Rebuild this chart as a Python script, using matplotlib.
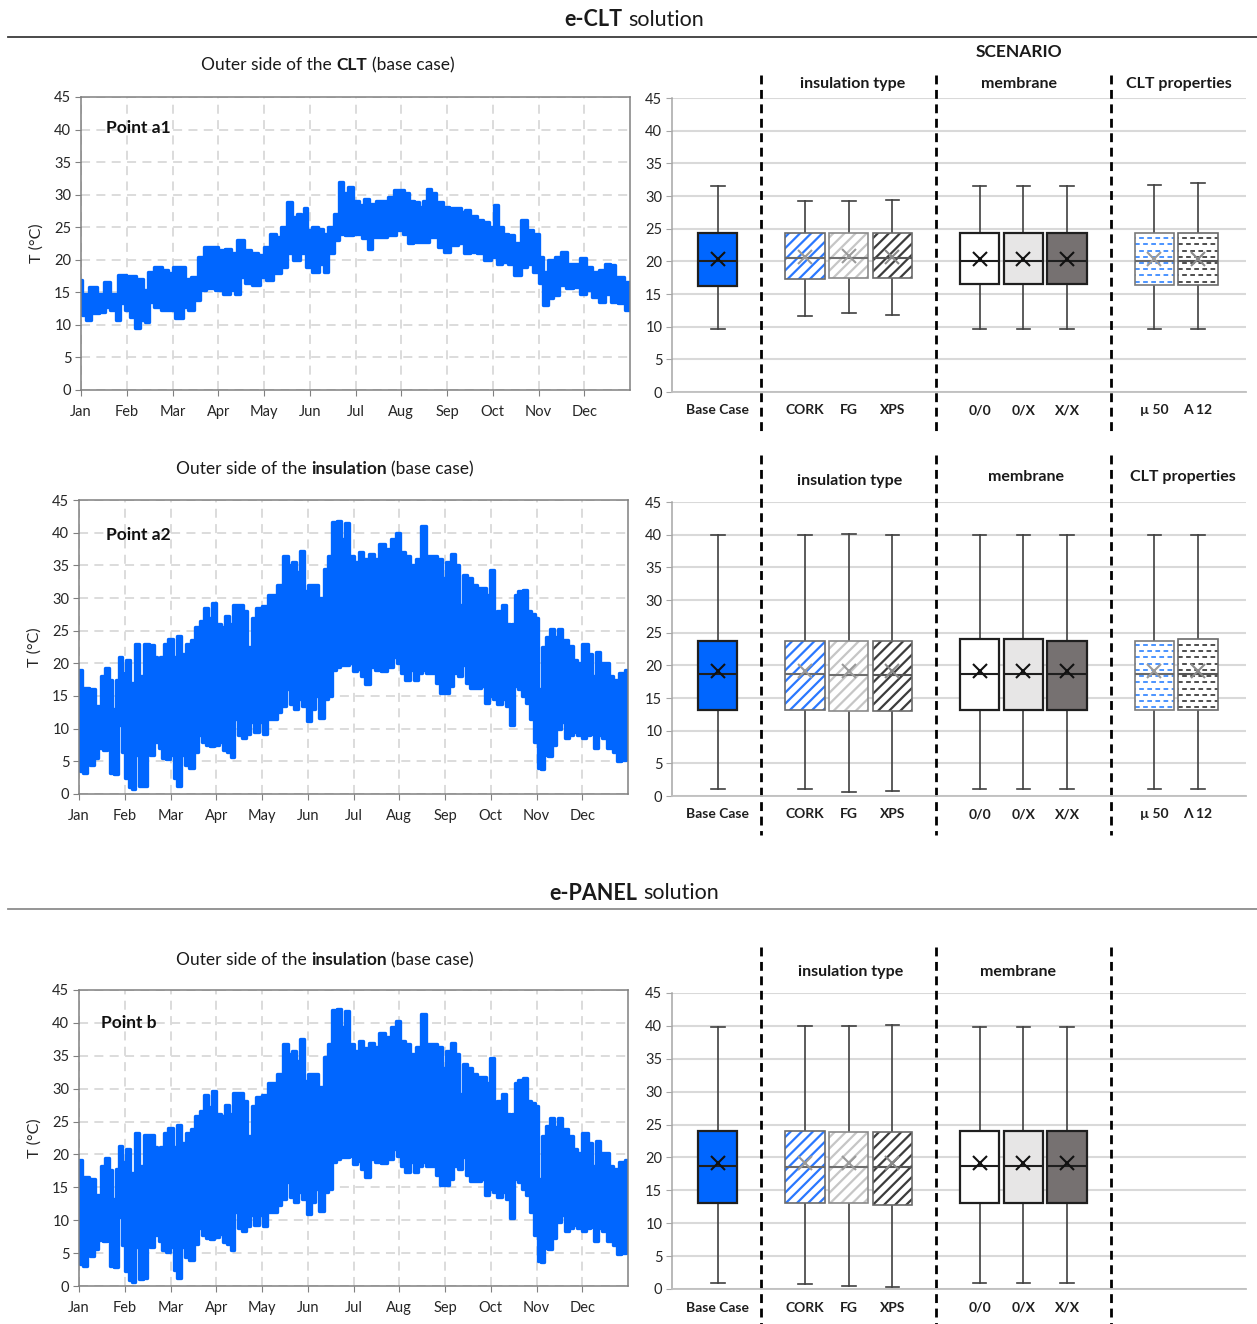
import numpy as np
import matplotlib
matplotlib.use("Agg")
import matplotlib.pyplot as plt
from matplotlib.patches import Rectangle
from matplotlib.lines import Line2D
import matplotlib.transforms as mtransforms

W, H, DPI = 1257, 1324, 100
plt.rcParams['font.family'] = ['Lato', 'DejaVu Sans']
plt.rcParams['hatch.linewidth'] = 1.6

MONTHS = ['Jan', 'Feb', 'Mar', 'Apr', 'May', 'Jun', 'Jul', 'Aug', 'Sep', 'Oct', 'Nov', 'Dec']

# ---- hourly temperature envelopes: (month position, daily max / daily min) ----
a1_hi = [(0.00, 16.9), (0.06, 14.8), (0.29, 15.8), (0.43, 14.8), (0.57, 16.6), (0.71, 14.8), (0.89, 17.6),
         (1.08, 17.5), (1.31, 17.1), (1.40, 15.3), (1.53, 18.1), (1.67, 18.9), (1.86, 18.4), (1.95, 17.9),
         (2.09, 18.9), (2.23, 18.9), (2.32, 17.1), (2.50, 17.4), (2.60, 20.4), (2.78, 22.0), (2.92, 22.0),
         (3.06, 21.5), (3.24, 21.7), (3.33, 21.0), (3.47, 23.0), (3.65, 21.5), (3.79, 21.0), (3.93, 20.7),
         (4.07, 22.0), (4.21, 24.0), (4.30, 23.5), (4.44, 25.1), (4.57, 28.9), (4.67, 26.6), (4.76, 27.1),
         (4.85, 25.8), (4.90, 27.9), (4.99, 24.5), (5.13, 25.1), (5.22, 24.8), (5.36, 24.0), (5.45, 25.1),
         (5.59, 27.1), (5.68, 32.0), (5.77, 30.2), (5.91, 31.2), (6.00, 29.1), (6.14, 28.4), (6.23, 29.4),
         (6.37, 28.6), (6.51, 29.1), (6.64, 29.1), (6.78, 29.7), (6.92, 30.7), (7.01, 30.7), (7.10, 30.2),
         (7.24, 29.1), (7.33, 28.9), (7.43, 28.1), (7.52, 29.1), (7.61, 30.9), (7.70, 30.2), (7.84, 28.9),
         (7.98, 28.1), (8.12, 27.9), (8.25, 27.9), (8.35, 27.4), (8.44, 27.6), (8.58, 26.8), (8.71, 26.1),
         (8.85, 25.8), (8.99, 25.1), (9.08, 28.4), (9.17, 25.1), (9.27, 24.0), (9.40, 23.8), (9.54, 22.5),
         (9.68, 26.1), (9.82, 24.5), (9.96, 24.0), (10.05, 20.4), (10.14, 18.1), (10.28, 19.9), (10.42, 20.4),
         (10.55, 21.2), (10.69, 19.4), (10.83, 19.4), (10.97, 20.2), (11.11, 18.9), (11.25, 18.1), (11.38, 18.4),
         (11.52, 19.4), (11.61, 19.2), (11.75, 17.4), (12.00, 16.6)]
a1_lo = [(0.00, 13.3), (0.06, 11.5), (0.16, 10.7), (0.29, 11.8), (0.48, 12.0), (0.57, 12.8), (0.71, 12.3),
         (0.80, 10.7), (0.89, 13.3), (1.03, 12.3), (1.12, 11.2), (1.24, 9.5), (1.35, 10.7), (1.44, 10.5),
         (1.53, 13.5), (1.67, 12.8), (1.81, 12.3), (1.95, 12.3), (2.18, 11.0), (2.27, 12.8), (2.41, 12.3),
         (2.55, 13.8), (2.64, 15.3), (2.83, 15.6), (3.01, 15.3), (3.19, 14.8), (3.33, 15.3), (3.42, 14.8),
         (3.52, 17.4), (3.65, 16.4), (3.84, 16.1), (3.98, 17.4), (4.11, 16.9), (4.30, 17.9), (4.44, 18.9),
         (4.57, 21.0), (4.71, 19.9), (4.85, 21.0), (4.99, 18.9), (5.13, 18.1), (5.26, 19.4), (5.36, 18.1),
         (5.45, 21.0), (5.59, 23.0), (5.68, 24.0), (5.86, 23.8), (6.05, 24.0), (6.23, 23.3), (6.32, 21.7),
         (6.41, 23.5), (6.60, 23.5), (6.78, 23.8), (6.97, 24.5), (7.10, 24.0), (7.20, 22.5), (7.33, 22.8),
         (7.52, 22.8), (7.70, 23.5), (7.89, 22.0), (7.98, 21.2), (8.16, 22.2), (8.30, 22.5), (8.44, 21.0),
         (8.58, 21.2), (8.71, 21.0), (8.90, 19.9), (9.04, 20.4), (9.13, 19.4), (9.27, 19.7), (9.40, 19.4),
         (9.54, 17.6), (9.68, 18.9), (9.82, 19.4), (9.96, 18.1), (10.05, 16.4), (10.14, 13.0), (10.28, 14.1),
         (10.37, 14.6), (10.51, 16.1), (10.69, 15.6), (10.83, 15.8), (10.97, 14.8), (11.11, 15.3), (11.25, 14.3),
         (11.38, 13.5), (11.52, 14.8), (11.66, 13.5), (11.80, 13.3), (12.00, 12.3)]

a2_hi = [(0.00, 19.0), (0.12, 16.3), (0.30, 16.0), (0.41, 13.5), (0.53, 18.0), (0.60, 19.3), (0.69, 17.5),
         (0.76, 13.0), (0.85, 17.5), (0.90, 21.0), (0.96, 18.5), (1.08, 20.5), (1.17, 17.0), (1.26, 23.0),
         (1.36, 18.0), (1.49, 22.9), (1.59, 22.8), (1.68, 21.0), (1.75, 19.5), (1.81, 21.0), (1.91, 23.0),
         (2.00, 23.7), (2.09, 21.0), (2.18, 24.2), (2.27, 21.5), (2.41, 23.0), (2.50, 23.5), (2.59, 25.5),
         (2.69, 26.5), (2.78, 28.5), (2.87, 27.0), (2.96, 29.3), (3.05, 26.0), (3.14, 25.5), (3.24, 27.2),
         (3.33, 26.0), (3.42, 29.0), (3.56, 29.0), (3.62, 28.0), (3.74, 22.5), (3.83, 27.0), (3.92, 28.5),
         (4.06, 28.7), (4.20, 30.5), (4.29, 30.5), (4.38, 32.0), (4.52, 36.5), (4.61, 35.0), (4.70, 35.5),
         (4.78, 34.0), (4.87, 37.2), (4.96, 31.0), (5.07, 32.0), (5.16, 32.0), (5.30, 30.0), (5.39, 34.5),
         (5.48, 36.5), (5.57, 41.7), (5.69, 41.8), (5.76, 39.0), (5.85, 41.5), (5.94, 36.5), (6.08, 35.5),
         (6.17, 37.0), (6.26, 36.0), (6.40, 36.8), (6.49, 36.0), (6.63, 38.2), (6.76, 37.5), (6.86, 39.0),
         (6.98, 40.0), (7.07, 37.0), (7.18, 36.5), (7.31, 35.0), (7.41, 36.0), (7.54, 41.0), (7.64, 36.5),
         (7.77, 36.5), (7.89, 36.0), (7.98, 33.0), (8.08, 35.5), (8.17, 36.8), (8.26, 35.0), (8.37, 29.0),
         (8.41, 33.5), (8.55, 33.0), (8.64, 32.0), (8.78, 31.5), (8.87, 31.5), (8.92, 30.5), (9.03, 34.3),
         (9.10, 27.5), (9.19, 28.0), (9.28, 29.0), (9.38, 26.0), (9.45, 21.5), (9.49, 26.0), (9.56, 30.5),
         (9.65, 31.0), (9.74, 31.3), (9.83, 28.0), (9.93, 27.5), (10.02, 27.0), (10.06, 16.0), (10.16, 22.5),
         (10.25, 24.0), (10.34, 25.2), (10.43, 24.0), (10.52, 25.2), (10.61, 23.5), (10.75, 22.6), (10.84, 20.5),
         (10.94, 20.0), (11.07, 23.0), (11.16, 21.5), (11.26, 18.0), (11.35, 21.8), (11.44, 20.0), (11.53, 20.0),
         (11.62, 18.0), (11.74, 17.5), (11.85, 18.5), (12.00, 19.0)]
a2_lo = [(0.00, 7.0), (0.05, 3.5), (0.12, 3.2), (0.21, 6.5), (0.28, 4.5), (0.38, 5.5), (0.47, 7.0), (0.56, 6.8),
         (0.65, 7.0), (0.71, 3.2), (0.81, 3.0), (0.90, 10.5), (0.96, 6.5), (1.04, 2.5), (1.13, 1.0), (1.20, 0.8),
         (1.26, 6.0), (1.36, 1.2), (1.45, 1.2), (1.51, 6.5), (1.60, 6.0), (1.70, 8.0), (1.79, 7.0), (1.86, 5.5),
         (1.95, 5.3), (2.04, 6.0), (2.12, 2.5), (2.18, 1.3), (2.27, 6.0), (2.36, 4.5), (2.46, 4.0), (2.55, 6.5),
         (2.64, 9.0), (2.73, 8.0), (2.82, 7.5), (2.91, 7.3), (3.01, 7.5), (3.10, 8.0), (3.19, 6.8), (3.28, 6.5),
         (3.35, 5.7), (3.42, 11.5), (3.51, 9.0), (3.60, 8.5), (3.69, 9.2), (3.79, 11.0), (3.88, 9.5), (3.97, 11.0),
         (4.06, 9.2), (4.15, 11.5), (4.29, 11.5), (4.38, 12.5), (4.47, 13.5), (4.56, 16.0), (4.66, 13.8),
         (4.75, 13.0), (4.84, 14.5), (4.93, 13.5), (5.02, 11.2), (5.11, 13.0), (5.21, 15.0), (5.30, 11.6),
         (5.39, 14.5), (5.48, 15.0), (5.57, 19.0), (5.66, 19.5), (5.76, 19.8), (5.85, 19.8), (5.94, 20.0),
         (6.03, 18.8), (6.12, 19.2), (6.21, 18.0), (6.31, 16.8), (6.40, 19.5), (6.54, 19.0), (6.67, 18.9),
         (6.81, 19.5), (6.90, 21.0), (6.99, 20.0), (7.09, 18.5), (7.18, 17.5), (7.27, 19.0), (7.36, 17.5),
         (7.45, 18.5), (7.54, 19.0), (7.64, 18.5), (7.73, 18.5), (7.86, 17.0), (7.94, 15.5), (8.03, 15.5),
         (8.14, 16.5), (8.23, 18.5), (8.32, 18.0), (8.41, 19.8), (8.51, 17.0), (8.60, 16.2), (8.74, 16.2),
         (8.83, 16.5), (8.92, 14.0), (9.01, 15.0), (9.10, 14.5), (9.19, 13.8), (9.28, 14.5), (9.38, 13.5),
         (9.47, 10.5), (9.54, 16.5), (9.63, 16.0), (9.73, 15.0), (9.82, 14.0), (9.91, 11.5), (10.00, 8.0),
         (10.06, 4.0), (10.13, 3.8), (10.20, 6.0), (10.29, 5.8), (10.38, 7.5), (10.48, 10.0), (10.57, 11.0),
         (10.66, 8.5), (10.75, 9.0), (10.84, 9.5), (10.94, 9.0), (11.03, 8.5), (11.12, 9.0), (11.21, 9.2),
         (11.30, 7.0), (11.39, 9.0), (11.48, 8.5), (11.62, 7.0), (11.71, 6.5), (11.81, 5.0), (11.90, 5.2),
         (12.00, 6.0)]

b_hi = [(0.00, 19.2), (0.12, 16.5), (0.30, 16.2), (0.41, 13.8), (0.53, 18.2), (0.60, 19.5), (0.69, 17.6),
        (0.76, 13.2), (0.85, 17.8), (0.90, 21.3), (0.96, 18.8), (1.08, 20.8), (1.17, 17.2), (1.26, 23.3),
        (1.36, 18.2), (1.49, 23.0), (1.59, 23.0), (1.68, 21.2), (1.75, 19.8), (1.81, 21.2), (1.91, 23.3),
        (2.00, 24.0), (2.09, 21.2), (2.18, 24.5), (2.27, 21.8), (2.41, 23.2), (2.50, 23.8), (2.59, 25.8),
        (2.69, 26.6), (2.78, 29.0), (2.87, 27.2), (2.96, 29.6), (3.05, 26.2), (3.14, 25.8), (3.24, 27.5),
        (3.33, 26.2), (3.42, 29.3), (3.56, 29.3), (3.62, 28.2), (3.74, 22.8), (3.83, 27.3), (3.92, 28.8),
        (4.06, 29.0), (4.20, 30.8), (4.29, 30.8), (4.38, 32.2), (4.52, 36.8), (4.61, 35.3), (4.70, 35.7),
        (4.78, 34.2), (4.87, 37.5), (4.96, 31.2), (5.07, 32.3), (5.16, 32.3), (5.30, 30.2), (5.39, 34.8),
        (5.48, 36.8), (5.57, 42.0), (5.69, 42.1), (5.76, 39.3), (5.85, 41.8), (5.94, 36.8), (6.08, 35.8),
        (6.17, 37.3), (6.26, 36.2), (6.40, 37.0), (6.49, 36.3), (6.63, 38.5), (6.76, 37.8), (6.86, 39.3),
        (6.98, 40.3), (7.07, 37.3), (7.18, 36.8), (7.31, 35.3), (7.41, 36.3), (7.54, 41.3), (7.64, 36.8),
        (7.77, 36.8), (7.89, 36.3), (7.98, 33.2), (8.08, 35.8), (8.17, 37.0), (8.26, 35.3), (8.37, 29.2),
        (8.41, 33.8), (8.55, 33.2), (8.64, 32.2), (8.78, 31.8), (8.87, 31.8), (8.92, 30.8), (9.03, 34.6),
        (9.10, 27.8), (9.19, 28.2), (9.28, 29.2), (9.38, 26.2), (9.45, 21.8), (9.49, 26.2), (9.56, 30.8),
        (9.65, 31.3), (9.74, 31.6), (9.83, 28.2), (9.93, 27.8), (10.02, 27.3), (10.06, 16.2), (10.16, 22.8),
        (10.25, 24.3), (10.34, 25.5), (10.43, 24.2), (10.52, 25.5), (10.61, 23.8), (10.75, 22.8), (10.84, 20.8),
        (10.94, 20.2), (11.07, 23.2), (11.16, 21.8), (11.26, 18.2), (11.35, 22.0), (11.44, 20.2), (11.53, 20.2),
        (11.62, 18.2), (11.74, 17.8), (11.85, 18.8), (12.00, 19.2)]
b_lo = [(0.00, 7.0), (0.05, 3.3), (0.12, 3.0), (0.21, 6.5), (0.28, 4.6), (0.38, 5.6), (0.47, 7.0), (0.56, 6.8),
        (0.65, 7.0), (0.71, 3.0), (0.81, 2.9), (0.90, 10.5), (0.96, 6.3), (1.04, 2.3), (1.13, 0.9), (1.20, 0.6),
        (1.26, 6.0), (1.36, 1.1), (1.45, 1.2), (1.51, 6.4), (1.60, 6.0), (1.70, 7.8), (1.79, 6.8), (1.86, 5.4),
        (1.95, 5.2), (2.04, 6.0), (2.12, 2.4), (2.18, 1.2), (2.27, 5.9), (2.36, 4.4), (2.46, 3.9), (2.55, 6.4),
        (2.64, 8.8), (2.73, 7.8), (2.82, 7.3), (2.91, 7.2), (3.01, 7.4), (3.10, 7.9), (3.19, 6.7), (3.28, 6.4),
        (3.35, 5.5), (3.42, 11.3), (3.51, 8.8), (3.60, 8.4), (3.69, 9.1), (3.79, 10.8), (3.88, 9.3), (3.97, 10.8),
        (4.06, 9.1), (4.15, 11.3), (4.29, 11.3), (4.38, 12.3), (4.47, 13.3), (4.56, 15.8), (4.66, 13.6),
        (4.75, 12.8), (4.84, 14.3), (4.93, 13.3), (5.02, 11.0), (5.11, 12.8), (5.21, 14.8), (5.30, 11.4),
        (5.39, 14.3), (5.48, 14.8), (5.57, 18.8), (5.66, 19.3), (5.76, 19.6), (5.85, 19.6), (5.94, 19.8),
        (6.03, 18.6), (6.12, 19.0), (6.21, 17.8), (6.31, 16.6), (6.40, 19.3), (6.54, 18.8), (6.67, 18.7),
        (6.81, 19.3), (6.90, 20.8), (6.99, 19.8), (7.09, 18.3), (7.18, 17.3), (7.27, 18.8), (7.36, 17.3),
        (7.45, 18.3), (7.54, 18.8), (7.64, 18.3), (7.73, 18.3), (7.86, 16.8), (7.94, 15.3), (8.03, 15.3),
        (8.14, 16.3), (8.23, 18.3), (8.32, 17.8), (8.41, 19.6), (8.51, 16.8), (8.60, 16.0), (8.74, 16.0),
        (8.83, 16.3), (8.92, 13.8), (9.01, 14.8), (9.10, 14.3), (9.19, 13.6), (9.28, 14.3), (9.38, 13.3),
        (9.47, 10.3), (9.54, 16.3), (9.63, 15.8), (9.73, 14.8), (9.82, 13.8), (9.91, 11.3), (10.00, 7.8),
        (10.06, 3.8), (10.13, 3.6), (10.20, 5.8), (10.29, 5.6), (10.38, 7.3), (10.48, 9.8), (10.57, 10.8),
        (10.66, 8.3), (10.75, 8.8), (10.84, 9.3), (10.94, 8.8), (11.03, 8.3), (11.12, 8.8), (11.21, 9.0),
        (11.30, 6.8), (11.39, 8.8), (11.48, 8.3), (11.62, 6.8), (11.71, 6.3), (11.81, 4.8), (11.90, 5.0),
        (12.00, 5.8)]

# ---- scenario box-plot statistics (°C) ----
labels_a1 = ['Base Case', 'CORK', 'FG', 'XPS', '0/0', '0/X', 'X/X', 'µ 50', 'A 12']
labels_a2 = ['Base Case', 'CORK', 'FG', 'XPS', '0/0', '0/X', 'X/X', 'µ 50', 'Λ 12']
labels_b = ['Base Case', 'CORK', 'FG', 'XPS', '0/0', '0/X', 'X/X']

a1_whishi = [31.6, 29.3, 29.3, 29.4, 31.6, 31.6, 31.6, 31.7, 32.0]
a1_q3 = [24.35, 24.4, 24.4, 24.4, 24.3, 24.3, 24.3, 24.3, 24.3]
a1_med = [20.0, 20.5, 20.5, 20.5, 20.1, 20.1, 20.1, 20.1, 20.1]
a1_q1 = [16.3, 17.3, 17.4, 17.4, 16.5, 16.5, 16.5, 16.4, 16.4]
a1_whislo = [9.7, 11.7, 12.1, 11.8, 9.7, 9.7, 9.7, 9.7, 9.6]
a1_mean = [20.3, 20.7, 20.8, 20.7, 20.3, 20.3, 20.3, 20.3, 20.3]

a2_whishi = [39.9, 39.9, 40.1, 40.0, 40.0, 39.9, 39.9, 39.9, 39.9]
a2_q3 = [23.8, 23.8, 23.8, 23.8, 24.0, 24.0, 23.8, 23.8, 24.0]
a2_med = [18.6, 18.6, 18.45, 18.45, 18.6, 18.6, 18.6, 18.6, 18.7]
a2_q1 = [13.1, 13.1, 13.0, 13.0, 13.1, 13.1, 13.1, 13.1, 13.1]
a2_whislo = [1.0, 1.0, 0.65, 0.75, 1.0, 1.0, 1.0, 1.0, 1.0]
a2_mean = [19.1, 19.1, 19.1, 19.1, 19.1, 19.1, 19.1, 19.1, 19.1]

b_whishi = [39.9, 40.0, 40.0, 40.2, 39.9, 39.9, 39.9]
b_q3 = [24.0, 24.0, 23.9, 23.9, 24.0, 24.0, 24.0]
b_med = [18.65, 18.5, 18.5, 18.5, 18.65, 18.65, 18.65]
b_q1 = [13.1, 13.0, 13.0, 12.8, 13.1, 13.1, 13.1]
b_whislo = [0.9, 0.75, 0.45, 0.3, 0.9, 0.9, 0.9]
b_mean = [19.1, 19.1, 19.1, 19.1, 19.1, 19.1, 19.1]

# ---- styling ----
BLUE = '#0066ff'
TXT = '#1a1a1a'
SLOTS = [0, 2, 3, 4, 6, 7, 8, 10, 11]
BOX_STYLES = [
    dict(face=BLUE, edge='#1f1f1f', med='#1f1f1f', mean='#111111'),
    dict(face='white', hatch='///', hatchc='#2a78ff', edge='#6a6a6a', med='#6a6a6a', mean='#9a9a9a'),
    dict(face='white', hatch='///', hatchc='#c6c6c6', edge='#8a8a8a', med='#6f6f6f', mean='#9a9a9a'),
    dict(face='white', hatch='///', hatchc='#3c3c3c', edge='#6a6a6a', med='#555555', mean='#8a8a8a'),
    dict(face='white', edge='#1f1f1f', med='#1f1f1f', mean='#111111'),
    dict(face='#e7e6e6', edge='#1f1f1f', med='#1f1f1f', mean='#111111'),
    dict(face='#767171', edge='#1f1f1f', med='#1f1f1f', mean='#111111'),
    dict(face='white', dashc='#3d8bff', edge='#7a7a7a', med='#6a6a6a', mean='#9a9a9a'),
    dict(face='white', dashc='#404040', edge='#6a6a6a', med='#555555', mean='#8a8a8a'),
]

fig = plt.figure(figsize=(W / DPI, H / DPI), dpi=DPI)
renderer = fig.canvas.get_renderer()


def fig_axes(left, top, right, bottom):
    return fig.add_axes([left / W, 1 - bottom / H, (right - left) / W, (bottom - top) / H])


def rich_text(xc, y, parts, size):
    """Centre a run of differently weighted text pieces at pixel (xc, y)."""
    items = []
    for s, w in parts:
        t = fig.text(0, 1 - y / H, s, fontsize=size, fontweight=w, ha='left', va='center', color=TXT)
        items.append((t, t.get_window_extent(renderer).width))
    probe1 = fig.text(0, 0, 'a a', fontsize=size)
    probe2 = fig.text(0, 0, 'aa', fontsize=size)
    gap = probe1.get_window_extent(renderer).width - probe2.get_window_extent(renderer).width
    probe1.remove(); probe2.remove()
    total = sum(w for _, w in items) + gap * (len(items) - 1)
    x = xc - total / 2
    for t, w in items:
        t.set_x(x / W)
        x += w + gap


def step_outline(pts):
    """Mid-step outline of an envelope: each reading holds until halfway to the next."""
    t = pts[:, 0]; v = pts[:, 1]
    edges = np.concatenate([[t[0]], (t[:-1] + t[1:]) / 2, [t[-1]]])
    xs = np.repeat(edges, 2)[1:-1]
    ys = np.repeat(v, 2)
    return xs, ys


def draw_series(ax, hi, lo, point_label, lab_xy):
    hx, hy = step_outline(np.asarray(hi))
    lx, ly = step_outline(np.asarray(lo))
    xs = np.concatenate([hx, lx[::-1]])
    ys = np.concatenate([hy, ly[::-1]])
    ax.fill(xs, ys, facecolor=BLUE, edgecolor=BLUE, lw=2.4, joinstyle='round', zorder=3)
    ax.set_xlim(0, 12)
    ax.set_ylim(0, 45)
    ax.set_xticks(range(12))
    ax.set_xticklabels(MONTHS)
    ax.set_yticks(range(0, 46, 5))
    ax.grid(True, color='#d9d9d9', lw=1.3, ls=(0, (5, 3.5)))
    ax.set_axisbelow(True)
    for sp in ax.spines.values():
        sp.set_color('#808080'); sp.set_linewidth(1.1)
        sp.set_zorder(4)
    ax.tick_params(direction='out', length=4, color='#808080', labelsize=10.5, labelcolor='#262626', pad=3)
    ax.tick_params(axis='x', pad=7)
    ax.set_ylabel('T (°C)', fontsize=11.5, color='#262626')
    ax.yaxis.set_label_coords(-0.068, 0.5)
    ax.text(lab_xy[0], lab_xy[1], point_label, transform=ax.transAxes, fontsize=12.5,
            fontweight='bold', ha='left', va='center', color='#111111')


def dash_fill(ax, x, w, lo, hi, color, clip):
    rows = np.arange(lo + 0.5, hi - 0.2, 0.95)
    for i, yv in enumerate(rows):
        ln, = ax.plot([x - w / 2, x + w / 2], [yv, yv], color=color, lw=1.3,
                      ls=((i % 2) * 2.2, (2.6, 1.9)), solid_capstyle='butt', zorder=2.6)
        ln.set_clip_path(clip)


def draw_boxes(ax, labels, whishi, q3, med, q1, whislo, mean, seps, sep_top, sep_bot):
    n = len(labels)
    pos = SLOTS[:n]
    stats = [dict(med=med[i], q1=q1[i], q3=q3[i], whislo=whislo[i], whishi=whishi[i],
                  mean=mean[i], label=labels[i]) for i in range(n)]
    bw = 0.9
    art = ax.bxp(stats, positions=pos, widths=bw, capwidths=0.31, patch_artist=True,
                 showmeans=True, showfliers=False, manage_ticks=False,
                 whiskerprops=dict(color='#404040', lw=1.2),
                 capprops=dict(color='#404040', lw=1.2),
                 medianprops=dict(lw=1.5, zorder=4),
                 meanprops=dict(marker='x', markersize=10, markeredgewidth=1.5, zorder=4))
    for i in range(n):
        st = BOX_STYLES[i]
        box = art['boxes'][i]
        box.set_zorder(3)
        box.set_edgecolor(st['edge'])
        box.set_linewidth(1.6 if st['edge'] == '#1f1f1f' else 1.2)
        x = pos[i]
        if 'hatch' in st or 'dashc' in st:
            box.set_facecolor('none')
            ax.add_patch(Rectangle((x - bw / 2, q1[i]), bw, q3[i] - q1[i], facecolor='white',
                                   edgecolor='none', zorder=2.2))
            if 'hatch' in st:
                ax.add_patch(Rectangle((x - bw / 2, q1[i]), bw, q3[i] - q1[i], facecolor='none',
                                       edgecolor=st['hatchc'], lw=0, hatch=st['hatch'], zorder=2.5))
            else:
                clip = Rectangle((x - bw / 2, q1[i]), bw, q3[i] - q1[i], transform=ax.transData)
                dash_fill(ax, x, bw, q1[i], q3[i], st['dashc'], clip)
        else:
            box.set_facecolor(st['face'])
        art['medians'][i].set_color(st['med'])
        art['means'][i].set_color(st['mean'])
        art['means'][i].set_markeredgecolor(st['mean'])
    ax.set_ylim(0, 45)
    ax.set_yticks(range(0, 46, 5))
    ax.yaxis.grid(True, color='#d9d9d9', lw=1.5)
    ax.set_axisbelow(True)
    ax.spines['top'].set_visible(False)
    ax.spines['right'].set_visible(False)
    ax.spines['left'].set_color('#a6a6a6')
    ax.spines['bottom'].set_color('#bfbfbf')
    ax.spines['left'].set_linewidth(1.1)
    ax.spines['bottom'].set_linewidth(1.3)
    ax.set_xticks(pos)
    ax.set_xticklabels(labels, fontweight='bold', fontsize=10, color='#1f1f1f')
    ax.tick_params(axis='x', length=0, pad=9)
    ax.tick_params(axis='y', length=4, color='#a6a6a6', labelsize=10.5, labelcolor='#262626', pad=3)
    tr = mtransforms.blended_transform_factory(ax.transData, fig.transFigure)
    for s in seps:
        ax.add_line(Line2D([s, s], [1 - sep_top / H, 1 - sep_bot / H], transform=tr, clip_on=False,
                           color='black', lw=2.0, ls=(0, (3.2, 2.0))))
    ax.set_xlim(-1.05, 12.1)


# ---- section headings and rules ----
rich_text(634, 20, [('e-CLT', 'bold'), ('solution', 'normal')], 15.5)
rich_text(634, 893, [('e-PANEL', 'bold'), ('solution', 'normal')], 15.5)
fig.add_artist(Line2D([8 / W, 1.0], [1 - 37 / H, 1 - 37 / H], color='#3a3a3a', lw=1.3))
fig.add_artist(Line2D([8 / W, 1.0], [1 - 909 / H, 1 - 909 / H], color='#8c8c8c', lw=1.3))
fig.text(1019 / W, 1 - 52 / H, 'SCENARIO', fontsize=12.5, fontweight='bold', ha='center', va='center', color=TXT)

rich_text(328, 65, [('Outer side of the', 'normal'), ('CLT', 'bold'), ('(base case)', 'normal')], 12.5)
rich_text(325, 469, [('Outer side of the', 'normal'), ('insulation', 'bold'), ('(base case)', 'normal')], 12.5)
rich_text(325, 960, [('Outer side of the', 'normal'), ('insulation', 'bold'), ('(base case)', 'normal')], 12.5)

for txt, x, y in [('insulation type', 853, 84), ('membrane', 1019, 84), ('CLT properties', 1179, 84),
                  ('insulation type', 850, 481), ('membrane', 1026, 477), ('CLT properties', 1183, 477),
                  ('insulation type', 851, 972), ('membrane', 1018, 972)]:
    fig.text(x / W, 1 - y / H, txt, fontsize=11.5, fontweight='bold', ha='center', va='center', color=TXT)

# ---- time series ----
ax1 = fig_axes(81, 97, 630, 390)
draw_series(ax1, a1_hi, a1_lo, 'Point a1', (0.046, 0.894))
ax2 = fig_axes(79, 500, 628, 794)
draw_series(ax2, a2_hi, a2_lo, 'Point a2', (0.049, 0.88))
ax3 = fig_axes(79, 990, 628, 1286)
draw_series(ax3, b_hi, b_lo, 'Point b', (0.040, 0.889))

# ---- scenario box plots ----
bx1 = fig_axes(672, 98, 1246, 392)
draw_boxes(bx1, labels_a1, a1_whishi, a1_q3, a1_med, a1_q1, a1_whislo, a1_mean, [1, 5, 9], 75, 432)
bx2 = fig_axes(672, 502, 1246, 796)
draw_boxes(bx2, labels_a2, a2_whishi, a2_q3, a2_med, a2_q1, a2_whislo, a2_mean, [1, 5, 9], 455, 835)
bx3 = fig_axes(672, 993, 1246, 1289)
draw_boxes(bx3, labels_b, b_whishi, b_q3, b_med, b_q1, b_whislo, b_mean, [1, 5, 9], 947, 1324)

fig.savefig('out.png', dpi=DPI, facecolor='white')
